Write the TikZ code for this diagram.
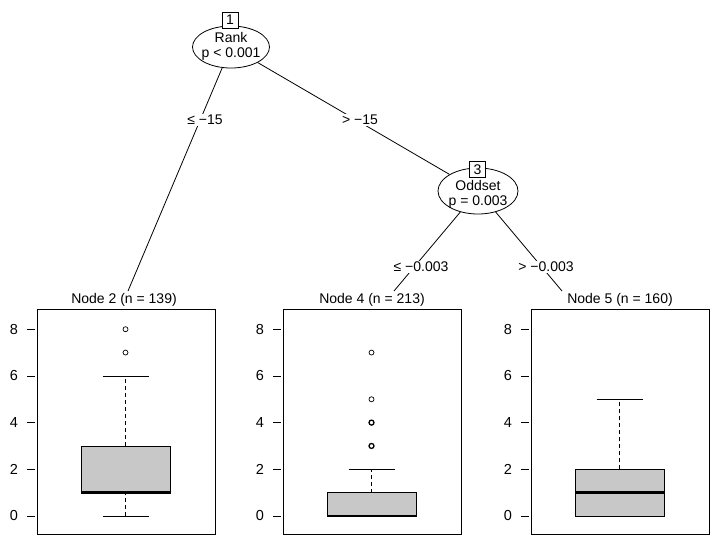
\documentclass[tikz,border=0pt]{standalone}
\usepackage{fontspec}
\setmainfont{Liberation Sans}
\usetikzlibrary{shapes.geometric}
\definecolor{boxgray}{RGB}{200,200,200}
\tikzset{
  base/.style={line width=0.8pt},
  ell/.style={ellipse, draw, base, inner sep=0pt, fill=white},
  inner/.style={align=center, inner sep=0pt, font=\fontsize{14}{15}\selectfont},
  idbox/.style={draw, base, fill=white, minimum width=16pt, minimum height=16pt, inner sep=0pt, font=\fontsize{14}{15}\selectfont},
  edge/.style={base},
  elab/.style={fill=white, inner sep=1.5pt, font=\fontsize{14}{15}\selectfont},
  ttl/.style={inner sep=0pt, font=\fontsize{14}{15}\selectfont},
  panelbox/.style={draw, base},
  ticklab/.style={inner sep=0pt, font=\fontsize{14.5}{15}\selectfont},
  bx/.style={draw, base, fill=boxgray},
  med/.style={line width=2.4pt},
  whisk/.style={base, dash pattern=on 4pt off 3pt},
  capline/.style={base},
  outl/.style={draw, line width=0.7pt, circle, minimum size=5pt, inner sep=0pt},
  outlb/.style={draw, line width=1.3pt, circle, minimum size=5pt, inner sep=0pt}
}
\newcommand{\vy}[1]{516-23.35*#1}
\begin{document}
\begin{tikzpicture}[x=1pt,y=-1pt]
\useasboundingbox (0,0) rectangle (716,547);

% inner nodes
\node[ell, minimum width=77pt, minimum height=42pt] (n1) at (231,47) {};
\node[inner] (n1t) at (231,46) {Rank\\p < 0.001};
\node[ell, minimum width=80pt, minimum height=46pt] (n3) at (478,191) {};
\node[inner] (n3t) at (478,194) {Oddset\\p = 0.003};

% edge ends
\coordinate (e2) at (128,291);
\coordinate (e4) at (394,291);
\coordinate (e5) at (562,291);

% connectors
\draw[edge] (n1) -- (e2);
\draw[edge] (n1) -- (n3);
\draw[edge] (n3) -- (e4);
\draw[edge] (n3) -- (e5);

% id boxes
\node[idbox] (b1) at (230,20) {1};
\node[idbox] (b3) at (477.5,169.5) {3};

% edge labels
\node[elab] (l2) at (205,120) {≤ −15};
\node[elab] (l3) at (360,120) {> −15};
\node[elab] (l4) at (421,267) {≤ −0.003};
\node[elab] (l5) at (546,267) {> −0.003};

% titles
\node[ttl] (t2) at (124,300) {Node 2 (n = 139)};
\node[ttl] (t4) at (372,300) {Node 4 (n = 213)};
\node[ttl] (t5) at (620,300) {Node 5 (n = 160)};

% panel 1
\begin{scope}[shift={(37,0)}]
  \draw[panelbox] (0,309) rectangle (178,534);
  \foreach \v in {0,2,4,6,8} {
    \draw[base] (-10,{\vy{\v}}) -- (-2,{\vy{\v}});
    \node[ticklab] at (-23,{\vy{\v}}) {\v};
  }
  \draw[whisk] (88.5,{\vy{3}}) -- (88.5,{\vy{6}});
  \draw[whisk] (88.5,{\vy{0}}) -- (88.5,{\vy{1}});
  \draw[capline] (65.5,{\vy{6}}) -- (111.5,{\vy{6}});
  \draw[capline] (65.5,{\vy{0}}) -- (111.5,{\vy{0}});
  \draw[bx] (44,{\vy{1}}) rectangle (133,{\vy{3}});
  \draw[med] (44,{\vy{1}}) -- (134,{\vy{1}});
  \node[outl] (o21) at (88.5,{\vy{7}}) {};
  \node[outl] (o22) at (88.5,{\vy{8}}) {};
\end{scope}

% panel 2
\begin{scope}[shift={(283,0)}]
  \draw[panelbox] (0,309) rectangle (178,534);
  \foreach \v in {0,2,4,6,8} {
    \draw[base] (-10,{\vy{\v}}) -- (-2,{\vy{\v}});
    \node[ticklab] at (-23,{\vy{\v}}) {\v};
  }
  \draw[whisk] (88.5,{\vy{1}}) -- (88.5,{\vy{2}});
  \draw[capline] (65.5,{\vy{2}}) -- (111.5,{\vy{2}});
  \draw[bx] (44,{\vy{0}}) rectangle (133,{\vy{1}});
  \draw[med] (44,{\vy{0}}) -- (134,{\vy{0}});
  \node[outlb] (o41) at (88.5,{\vy{3}}) {};
  \node[outlb] (o42) at (88.5,{\vy{4}}) {};
  \node[outl] (o43) at (88.5,{\vy{5}}) {};
  \node[outl] (o44) at (88.5,{\vy{7}}) {};
\end{scope}

% panel 3
\begin{scope}[shift={(531,0)}]
  \draw[panelbox] (0,309) rectangle (178,534);
  \foreach \v in {0,2,4,6,8} {
    \draw[base] (-10,{\vy{\v}}) -- (-2,{\vy{\v}});
    \node[ticklab] at (-23,{\vy{\v}}) {\v};
  }
  \draw[whisk] (88.5,{\vy{2}}) -- (88.5,{\vy{5}});
  \draw[capline] (65.5,{\vy{5}}) -- (111.5,{\vy{5}});
  \draw[bx] (44,{\vy{0}}) rectangle (133,{\vy{2}});
  \draw[med] (44,{\vy{1}}) -- (134,{\vy{1}});
\end{scope}
\end{tikzpicture}
\end{document}
